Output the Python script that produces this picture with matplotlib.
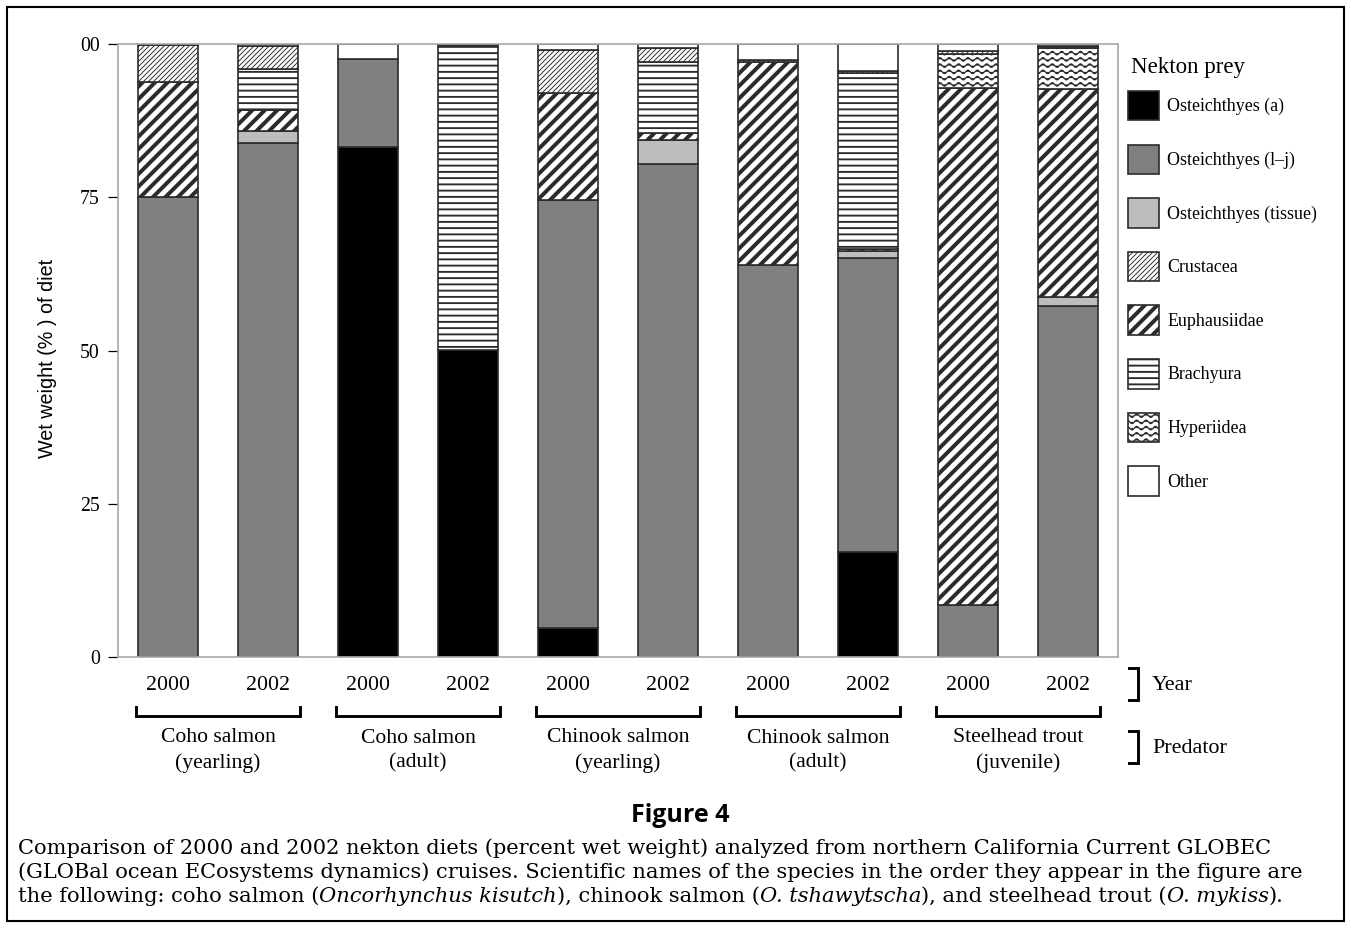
import warnings
import numpy as np
import matplotlib
matplotlib.use('Agg')
import matplotlib as mpl
import matplotlib.pyplot as plt
from matplotlib import hatch as mhatch
from matplotlib.path import Path
from matplotlib.patches import Patch, Rectangle

warnings.filterwarnings('ignore', category=mpl.MatplotlibDeprecationWarning)

# 每组两年：2000 / 2002
years = ['2000', '2002'] * 5
predators = ['Coho salmon\n(yearling)', 'Coho salmon\n(adult)', 'Chinook salmon\n(yearling)',
             'Chinook salmon\n(adult)', 'Steelhead trout\n(juvenile)']

# 湿重百分比（%）
ost_a   = [0.0, 0.0, 83.2, 50.1, 4.8, 0.0, 0.0, 17.1, 0.0, 0.0]
ost_lj  = [75.0, 83.9, 14.3, 0.0, 69.7, 80.5, 63.9, 48.0, 8.5, 57.2]
tissue  = [0.0, 1.9, 0.0, 0.0, 0.0, 3.8, 0.0, 1.1, 0.0, 1.5]
euph    = [18.8, 3.5, 0.0, 0.0, 17.5, 1.2, 33.1, 0.3, 84.4, 34.0]
hyper   = [0.0, 0.0, 0.0, 0.0, 0.0, 0.0, 0.0, 0.0, 5.4, 6.7]
brach   = [0.0, 6.6, 0.0, 49.7, 0.0, 11.6, 0.0, 28.7, 0.0, 0.3]
crust   = [6.0, 3.8, 0.0, 0.0, 7.1, 2.3, 0.4, 0.4, 0.6, 0.0]
other   = [0.2, 0.3, 2.5, 0.2, 0.9, 0.6, 2.6, 4.4, 1.1, 0.3]

ytick_vals = [0, 25, 50, 75, 100]
ytick_labels = ['0', '25', '50', '75', '00']


# 波浪线填充（Hyperiidea 用），matplotlib 自带的 hatch 里没有
class WaveHatch(mhatch.HatchPatternBase):
    def __init__(self, hatch, density):
        self.num_rows = hatch.count('~') * density
        self.num_pts = 16 * 12 + 1
        self.num_vertices = self.num_rows * self.num_pts

    def set_vertices_and_codes(self, vertices, codes):
        t = np.linspace(0, 1, self.num_pts)
        step = 1.0 / self.num_rows
        for i in range(self.num_rows):
            s = slice(i * self.num_pts, (i + 1) * self.num_pts)
            vertices[s, 0] = t
            vertices[s, 1] = (i + 0.5) * step + 0.28 * step * np.sin(2 * np.pi * 16 * t)
            codes[s] = Path.LINETO
            codes[i * self.num_pts] = Path.MOVETO


mhatch._hatch_types.append(WaveHatch)

serif = ['Liberation Serif', 'DejaVu Serif']
plt.rcParams['font.family'] = serif
plt.rcParams['hatch.color'] = 'black'

# 名称, 数据, 填充色, hatch, hatch 线宽
stack = [
    ('Osteichthyes (a)', ost_a, '#000000', None, 1.0),
    ('Osteichthyes (l\u2013j)', ost_lj, '#808080', None, 1.0),
    ('Osteichthyes (tissue)', tissue, '#bdbdbd', None, 1.0),
    ('Euphausiidae', euph, 'white', '////', 1.9),
    ('Hyperiidea', hyper, 'white', '~~~~', 0.6),
    ('Brachyura', brach, 'white', '----', 0.9),
    ('Crustacea', crust, 'white', '//////////', 0.45),
    ('Other', other, 'white', None, 1.0),
]
legend_order = ['Osteichthyes (a)', 'Osteichthyes (l\u2013j)', 'Osteichthyes (tissue)', 'Crustacea',
                'Euphausiidae', 'Brachyura', 'Hyperiidea', 'Other']

W, H = 1351, 934
fig = plt.figure(figsize=(W / 150, H / 150), dpi=150)
ax = fig.add_axes([118 / W, 1 - 657 / H, 1000 / W, 613 / H])

x = np.arange(len(years))
bottom = np.zeros(len(years))
handles = {}
for name, vals, fc, hatch, hlw in stack:
    vals = np.array(vals)
    with plt.rc_context({'hatch.linewidth': hlw}):
        bars = ax.bar(x, vals, width=0.6, bottom=bottom, color=fc, edgecolor='#2b2b2b',
                      linewidth=0.8, hatch=hatch, zorder=2)
        h = Patch(facecolor=fc, edgecolor='#2b2b2b', linewidth=0.8, hatch=hatch)
    for b, v in zip(bars, vals):
        if hasattr(b, 'set_hatch_linewidth'):
            b.set_hatch_linewidth(hlw)
        if v == 0:
            b.set_visible(False)
    if hasattr(h, 'set_hatch_linewidth'):
        h.set_hatch_linewidth(hlw)
    handles[name] = (h, hlw)
    bottom += vals

ax.set_xlim(-0.5, 9.5)
ax.set_ylim(0, 100)
ax.set_yticks(ytick_vals, ytick_labels, fontsize=9.5)
ax.set_xticks(x, years, fontsize=10.5)
ax.tick_params(axis='y', length=4.8, width=0.6, color='black', pad=4)
ax.tick_params(axis='x', length=0, pad=9.2)
for sp in ax.spines.values():
    sp.set_color('#a8a8a8')
    sp.set_linewidth(0.8)

fig.text(48 / W, 1 - 358 / H, 'Wet weight (% ) of diet', rotation=90, ha='center', va='center',
         family=['Liberation Sans', 'DejaVu Sans'], fontsize=9.5)

# 捕食者分组括号
tr = ax.get_xaxis_transform()
y_top, y_bar = -0.082, -0.097
for g, label in enumerate(predators):
    x0, x1 = 2 * g - 0.32, 2 * g + 1.32
    ax.plot([x0, x0, x1, x1], [y_top, y_bar, y_bar, y_top], color='black', lw=1.4,
            transform=tr, clip_on=False, solid_joinstyle='miter')
    ax.text(2 * g + 0.5, -0.153, label, transform=tr, ha='center', va='center',
            fontsize=10.4, linespacing=1.42)

# 右侧 Year / Predator 括号
for (ya, yb, ym, txt) in [(-0.018, -0.070, -0.047, 'Year'), (-0.121, -0.173, -0.149, 'Predator')]:
    ax.plot([1.011, 1.020, 1.020, 1.011], [ya, ya, yb, yb], color='black', lw=1.4,
            transform=ax.transAxes, clip_on=False, solid_joinstyle='miter')
    ax.text(1.034, ym, txt, transform=ax.transAxes, ha='left', va='center', fontsize=10.6)

# 图例
fig.text(1131 / W, 1 - 67 / H, 'Nekton prey', ha='left', va='center', fontsize=11)
leg_handles = [handles[n][0] for n in legend_order]
leg = ax.legend(leg_handles, legend_order, loc='upper left',
                bbox_to_anchor=(1128 / W, 1 - 91 / H), bbox_transform=fig.transFigure,
                frameon=False, fontsize=8.6, handlelength=1.75, handleheight=2.15,
                handletextpad=0.45, labelspacing=1.35, borderpad=0, borderaxespad=0)
for p, n in zip(leg.get_patches(), legend_order):
    if hasattr(p, 'set_hatch_linewidth'):
        p.set_hatch_linewidth(handles[n][1])

# 图题和说明
fig.text(680 / W, 1 - 815 / H, 'Figure 4', ha='center', va='center', fontsize=12,
         family=['Open Sans', 'DejaVu Sans'], weight='bold')

cap_font = dict(family=['DejaVu Serif'], fontsize=10.1)
cap_lines = [
    [('Comparison of 2000 and 2002 nekton diets (percent wet weight) analyzed from northern California Current GLOBEC', False)],
    [('(GLOBal ocean ECosystems dynamics) cruises. Scientific names of the species in the order they appear in the figure are', False)],
    [('the following: coho salmon (', False), ('Oncorhynchus kisutch', True), ('), chinook salmon (', False),
     ('O. tshawytscha', True), ('), and steelhead trout (', False), ('O. mykiss', True), (').', False)],
]
for i, pieces in enumerate(cap_lines):
    yc = 1 - (848 + 24 * i) / H
    prev = None
    for s, it in pieces:
        style = 'italic' if it else 'normal'
        if prev is None:
            prev = fig.text(18 / W, yc, s, ha='left', va='center', style=style, **cap_font)
        else:
            prev = ax.annotate(s, xy=(1, 0), xycoords=prev, ha='left', va='bottom',
                               style=style, annotation_clip=False, **cap_font)

# 外框
fig.add_artist(Rectangle((7 / W, 13 / H), 1337 / W, 914 / H, transform=fig.transFigure,
                         fill=False, edgecolor='black', linewidth=1.0))

fig.savefig('out.png', dpi=150)
